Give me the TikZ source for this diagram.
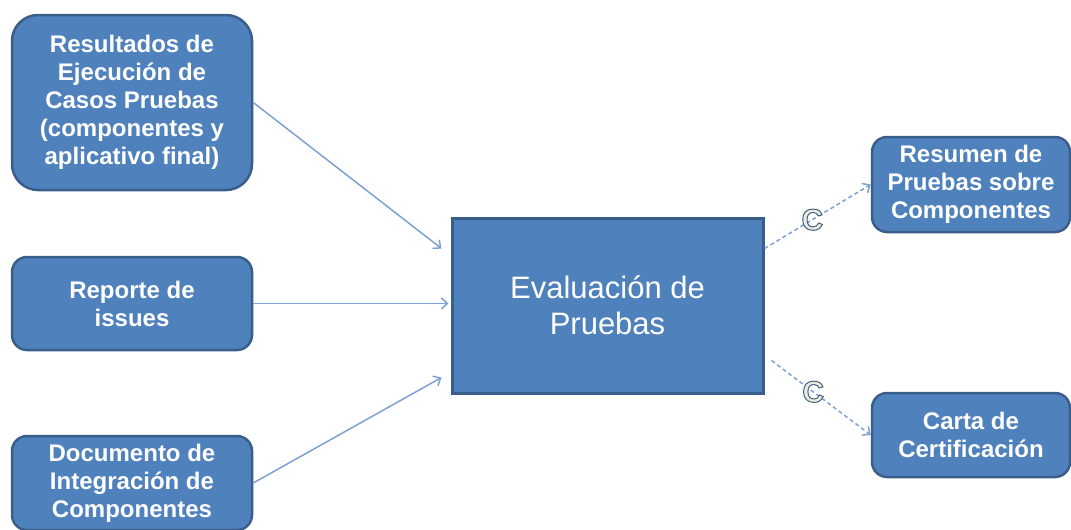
\documentclass[tikz,border=0pt]{standalone}
\usepackage{fontspec}
\setmainfont{Liberation Sans}
\usetikzlibrary{arrows.meta}
\definecolor{boxfill}{HTML}{4F81BD}
\definecolor{boxline}{HTML}{3A5E8C}
\definecolor{flowline}{HTML}{7EA0D4}
\definecolor{cpale}{HTML}{E9EDDC}
\begin{document}
\begin{tikzpicture}[x=1pt, y=-1pt,
  inbox/.style={draw=boxline, line width=2.5pt, fill=boxfill, text=white, align=center,
    font=\bfseries\fontsize{24}{28}\selectfont, minimum width=240pt, inner sep=0pt},
  outbox/.style={inbox, minimum width=198pt},
  flow/.style={draw=flowline, line width=1.5pt, -{Straight Barb[length=6pt,width=11pt]}},
  dflow/.style={flow, dash pattern=on 4pt off 3pt},
  clabel/.style={text=cpale, font=\bfseries\fontsize{30}{30}\selectfont, inner sep=0pt}]
\useasboundingbox (0,0) rectangle (1071,530);
\node[inbox, minimum height=175pt, rounded corners=26pt] (res) at (132,102.5)
  {Resultados de\\Ejecución de\\Casos Pruebas\\(componentes y\\aplicativo final)};
\node[inbox, minimum height=93pt, rounded corners=15pt] (rep) at (132,303.5) {Reporte de\\issues};
\node[inbox, minimum height=94pt, rounded corners=15pt] (doc) at (132,483)
  {Documento de\\Integración de\\Componentes};
\node[draw=boxline, line width=3pt, fill=boxfill, text=white, align=center,
  font=\fontsize{31}{36}\selectfont, minimum width=311pt, minimum height=175pt] (eval) at (607.5,305.5)
  {Evaluación de\\Pruebas};
\node[outbox, minimum height=95pt, rounded corners=15pt] (sum) at (971,184.5)
  {Resumen de\\Pruebas sobre\\Componentes};
\node[outbox, minimum height=84pt, rounded corners=15pt] (cert) at (971,435) {Carta de\\Certificación};
\draw[flow] (res.east) -- ([xshift=-9pt,yshift=57pt]eval.west);
\draw[flow] (rep.east) -- ([xshift=-2pt]eval.west |- rep.east);
\draw[flow] (doc.east) -- ([xshift=-9pt,yshift=-72pt]eval.west);
\draw[dflow] ([yshift=57pt]eval.east) -- node[clabel, pos=0.45]
  {\special{pdf:literal 0.27 0.37 0.52 RG 1 w 2 Tr}C\special{pdf:literal 0 Tr}} (sum.west);
\draw[dflow] ([xshift=7pt,yshift=-55pt]eval.east) -- node[clabel, pos=0.42]
  {\special{pdf:literal 0.27 0.37 0.52 RG 1 w 2 Tr}C\special{pdf:literal 0 Tr}} (cert.west);
\end{tikzpicture}
\end{document}
